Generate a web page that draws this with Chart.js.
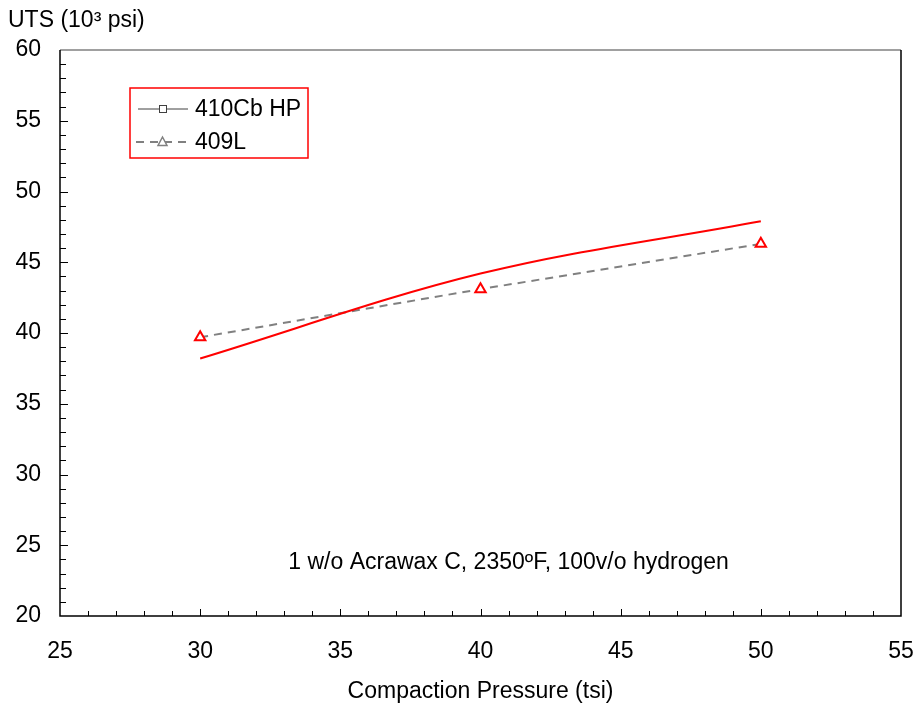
<!DOCTYPE html>
<html>
<head>
<meta charset="utf-8">
<script src="https://cdn.jsdelivr.net/npm/chart.js@4/dist/chart.umd.min.js"></script>
<style>
  html, body { margin: 0; padding: 0; background: #fff; }
  #wrap { width: 918px; height: 709px; }
</style>
</head>
<body>
<div id="wrap"><canvas id="utsChart" width="918" height="709"></canvas></div>
<script>
const pressure = [30, 40, 50];
const uts410CbHP = [38.2, 44.2, 47.9];
const uts409L = [39.7, 43.1, 46.3];
const seriesNames = ["410Cb HP", "409L"];
const xTitle = "Compaction Pressure (tsi)";
const yTitle = "UTS (10³ psi)";
const note = "1 w/o Acrawax C, 2350ºF, 100v/o hydrogen";

const FONT = "'Liberation Sans', Arial, sans-serif";
const FS = 23;

const toPoints = (ys) => pressure.map((x, i) => ({ x: x, y: ys[i] }));

// inward tick marks, box frame, titles, note and the legend box
const decorations = {
  id: 'decorations',
  afterDraw(chart) {
    const c = chart.ctx;
    const a = chart.chartArea;
    const xs = chart.scales.x;
    const ys = chart.scales.y;
    c.save();

    // frame
    c.lineWidth = 1.5;
    c.strokeStyle = '#808080';
    c.beginPath(); c.moveTo(a.left, a.top); c.lineTo(a.right, a.top); c.stroke();
    c.strokeStyle = '#000';
    c.beginPath();
    c.moveTo(a.right, a.top); c.lineTo(a.right, a.bottom);
    c.lineTo(a.left, a.bottom); c.lineTo(a.left, a.top);
    c.stroke();

    // minor/major ticks pointing inward
    c.lineWidth = 1;
    for (let v = xs.min + 1; v < xs.max; v++) {
      const px = Math.round(xs.getPixelForValue(v)) + 0.5;
      const len = v % 5 === 0 ? 7 : 5;
      c.beginPath(); c.moveTo(px, a.bottom); c.lineTo(px, a.bottom - len); c.stroke();
    }
    for (let v = ys.min + 1; v < ys.max; v++) {
      const py = Math.round(ys.getPixelForValue(v)) + 0.5;
      const len = v % 5 === 0 ? 8 : 6;
      c.beginPath(); c.moveTo(a.left, py); c.lineTo(a.left + len, py); c.stroke();
    }

    // titles
    c.fillStyle = '#000';
    c.font = FS + 'px ' + FONT;
    c.textAlign = 'center';
    c.textBaseline = 'middle';
    c.fillText(xTitle, (a.left + a.right) / 2, 692);
    c.textAlign = 'left';
    c.fillText(yTitle, 8, 21);

    // note inside the plot
    c.textAlign = 'center';
    c.fillText(note, xs.getPixelForValue(41), ys.getPixelForValue(23.8));

    // legend box
    const bx = 130, by = 88, bw = 178, bh = 70;
    c.fillStyle = '#fff';
    c.fillRect(bx, by, bw, bh);
    c.strokeStyle = '#ff0000';
    c.lineWidth = 1.5;
    c.strokeRect(bx, by, bw, bh);

    const rows = [by + 21, by + 54];
    // 410Cb HP: solid line + square
    c.strokeStyle = '#404040';
    c.lineWidth = 1;
    c.beginPath(); c.moveTo(138, rows[0]); c.lineTo(188, rows[0]); c.stroke();
    c.fillStyle = '#fff';
    c.fillRect(159, rows[0] - 3.5, 7, 7);
    c.strokeRect(159.5, rows[0] - 3.5, 7, 7);
    // 409L: dashed gray + triangle
    c.strokeStyle = '#808080';
    c.lineWidth = 2;
    c.setLineDash([8, 6]);
    c.beginPath(); c.moveTo(136, rows[1]); c.lineTo(190, rows[1]); c.stroke();
    c.setLineDash([]);
    c.fillStyle = '#fff';
    c.beginPath();
    c.moveTo(162.5, rows[1] - 5); c.lineTo(167, rows[1] + 3.5); c.lineTo(158, rows[1] + 3.5); c.closePath();
    c.fill(); c.lineWidth = 1.5; c.stroke();

    c.fillStyle = '#000';
    c.textAlign = 'left';
    c.fillText(seriesNames[0], 195, rows[0] + 1);
    c.fillText(seriesNames[1], 195, rows[1] + 1);
    c.restore();
  }
};

const ctx = document.getElementById('utsChart').getContext('2d');

let utsChart = new Chart(ctx, {
  type: 'scatter',
  data: {
    datasets: [
      {
        label: seriesNames[0],
        data: toPoints(uts410CbHP),
        showLine: true,
        borderColor: '#ff0000',
        borderWidth: 2,
        tension: 0.35,
        pointRadius: 0,
      },
      {
        label: seriesNames[1],
        data: toPoints(uts409L),
        showLine: true,
        borderColor: '#808080',
        borderWidth: 2,
        borderDash: [8, 6],
        tension: 0,
        pointStyle: 'triangle',
        pointRadius: 6,
        pointBorderColor: '#ff0000',
        pointBackgroundColor: '#fff',
        pointBorderWidth: 2,
      },
    ],
  },
  options: {
    responsive: false,
    animation: false,
    layout: { padding: { left: 0, top: 50, right: 17, bottom: 0 } },
    plugins: { legend: { display: false }, tooltip: { enabled: false } },
    scales: {
      x: {
        type: 'linear',
        min: 25,
        max: 55,
        grid: { display: false, drawTicks: false },
        border: { display: false },
        ticks: { stepSize: 5, padding: 22, color: '#000', font: { family: FONT, size: FS } },
        afterFit(scale) { scale.height = 93; scale.paddingLeft = 0; scale.paddingRight = 0; },
      },
      y: {
        min: 20,
        max: 60,
        grid: { display: false, drawTicks: false },
        border: { display: false },
        ticks: { stepSize: 5, padding: 19, color: '#000', font: { family: FONT, size: FS } },
        afterFit(scale) { scale.width = 60; scale.paddingTop = 0; scale.paddingBottom = 0; },
      },
    },
  },
  plugins: [decorations],
});
</script>
</body>
</html>
